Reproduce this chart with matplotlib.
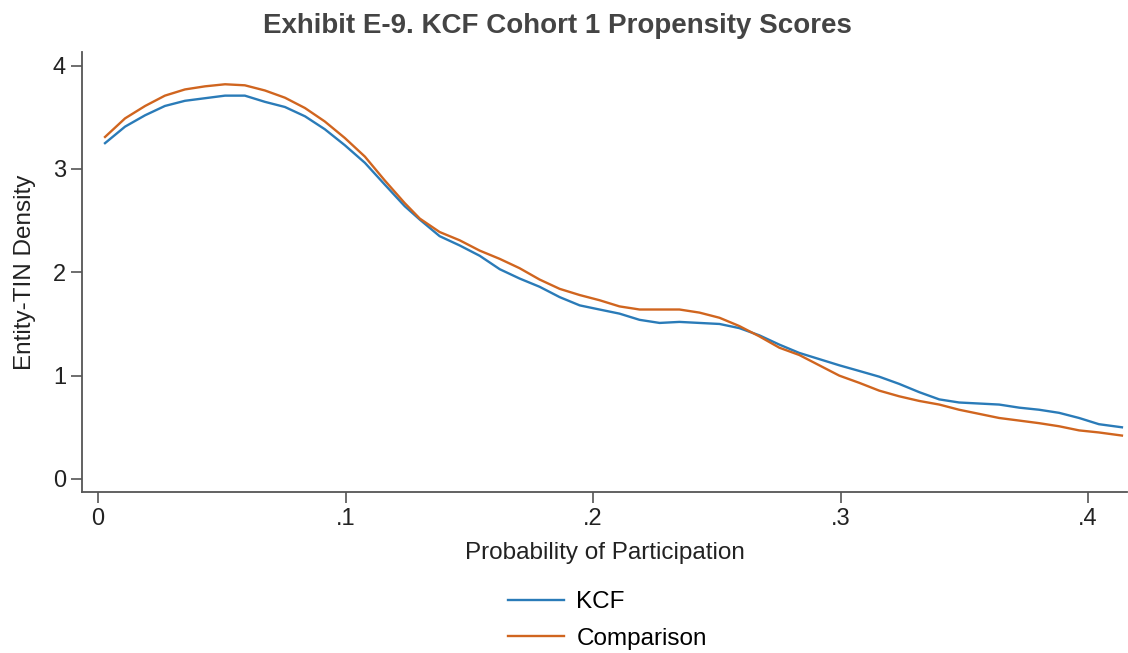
import matplotlib.pyplot as plt

plt.rcParams['font.family'] = ['Liberation Sans', 'DejaVu Sans']

# Propensity score grid shared by both density curves
score = [0.0028, 0.0109, 0.0190, 0.0270, 0.0351, 0.0432, 0.0513, 0.0593, 0.0674, 0.0755,
         0.0836, 0.0916, 0.0997, 0.1078, 0.1158, 0.1239, 0.1300, 0.1380, 0.1461, 0.1542,
         0.1623, 0.1703, 0.1784, 0.1865, 0.1946, 0.2026, 0.2107, 0.2188, 0.2269, 0.2349,
         0.2430, 0.2511, 0.2591, 0.2672, 0.2753, 0.2833, 0.2914, 0.2995, 0.3076, 0.3156,
         0.3237, 0.3318, 0.3399, 0.3479, 0.3560, 0.3641, 0.3722, 0.3802, 0.3883, 0.3964,
         0.4044, 0.4137]

# Density, KCF entities
kcf = [3.25, 3.41, 3.52, 3.61, 3.66, 3.685, 3.71, 3.71, 3.65, 3.60,
       3.51, 3.385, 3.23, 3.06, 2.85, 2.64, 2.51, 2.35, 2.26, 2.16,
       2.03, 1.94, 1.86, 1.76, 1.68, 1.64, 1.60, 1.54, 1.51, 1.52,
       1.51, 1.50, 1.46, 1.39, 1.30, 1.22, 1.16, 1.10, 1.045, 0.99,
       0.92, 0.84, 0.77, 0.74, 0.73, 0.72, 0.69, 0.67, 0.64, 0.59,
       0.53, 0.50]

# Density, comparison entities
comparison = [3.31, 3.49, 3.61, 3.71, 3.77, 3.80, 3.82, 3.81, 3.76, 3.69,
              3.59, 3.46, 3.30, 3.12, 2.89, 2.67, 2.52, 2.39, 2.31, 2.21,
              2.13, 2.04, 1.93, 1.84, 1.78, 1.73, 1.67, 1.64, 1.64, 1.64,
              1.61, 1.56, 1.48, 1.38, 1.27, 1.20, 1.10, 1.00, 0.93, 0.855,
              0.80, 0.755, 0.72, 0.67, 0.63, 0.59, 0.565, 0.54, 0.51, 0.47,
              0.45, 0.42]

xticks = [0, 0.1, 0.2, 0.3, 0.4]
xtick_labels = ['0', '.1', '.2', '.3', '.4']
yticks = [0, 1, 2, 3, 4]

fig = plt.figure(figsize=(11.28, 6.53), dpi=100)
ax = fig.add_axes([0.0727, 0.2466, 0.9263, 0.6734])

ax.plot(score, kcf, color='#2a7bb8', lw=1.7, label='KCF')
ax.plot(score, comparison, color='#d0651f', lw=1.7, label='Comparison')

ax.set_xlim(-0.0065, 0.4157)
ax.set_ylim(-0.126, 4.13)
ax.set_xticks(xticks)
ax.set_xticklabels(xtick_labels)
ax.set_yticks(yticks)

for side in ['top', 'right']:
    ax.spines[side].set_visible(False)
for side in ['left', 'bottom']:
    ax.spines[side].set_color('#555555')
    ax.spines[side].set_linewidth(1.3)
ax.tick_params(colors='#555555', labelcolor='#222222', labelsize=17, length=8, width=1.2)

ax.set_xlabel('Probability of Participation', fontsize=17.5, color='#222222', labelpad=9)
ax.set_ylabel('Entity-TIN Density', fontsize=17.5, color='#222222', labelpad=12)

fig.suptitle('Exhibit E-9. KCF Cohort 1 Propensity Scores', x=0.494, y=0.98,
             fontsize=20, fontweight='bold', color='#444444')

fig.legend(loc='center left', bbox_to_anchor=(0.442, 0.0498), frameon=False,
           fontsize=17.5, handlelength=2.3, handletextpad=0.5, labelspacing=0.6,
           borderaxespad=0)

fig.savefig('out.png', dpi=100)
